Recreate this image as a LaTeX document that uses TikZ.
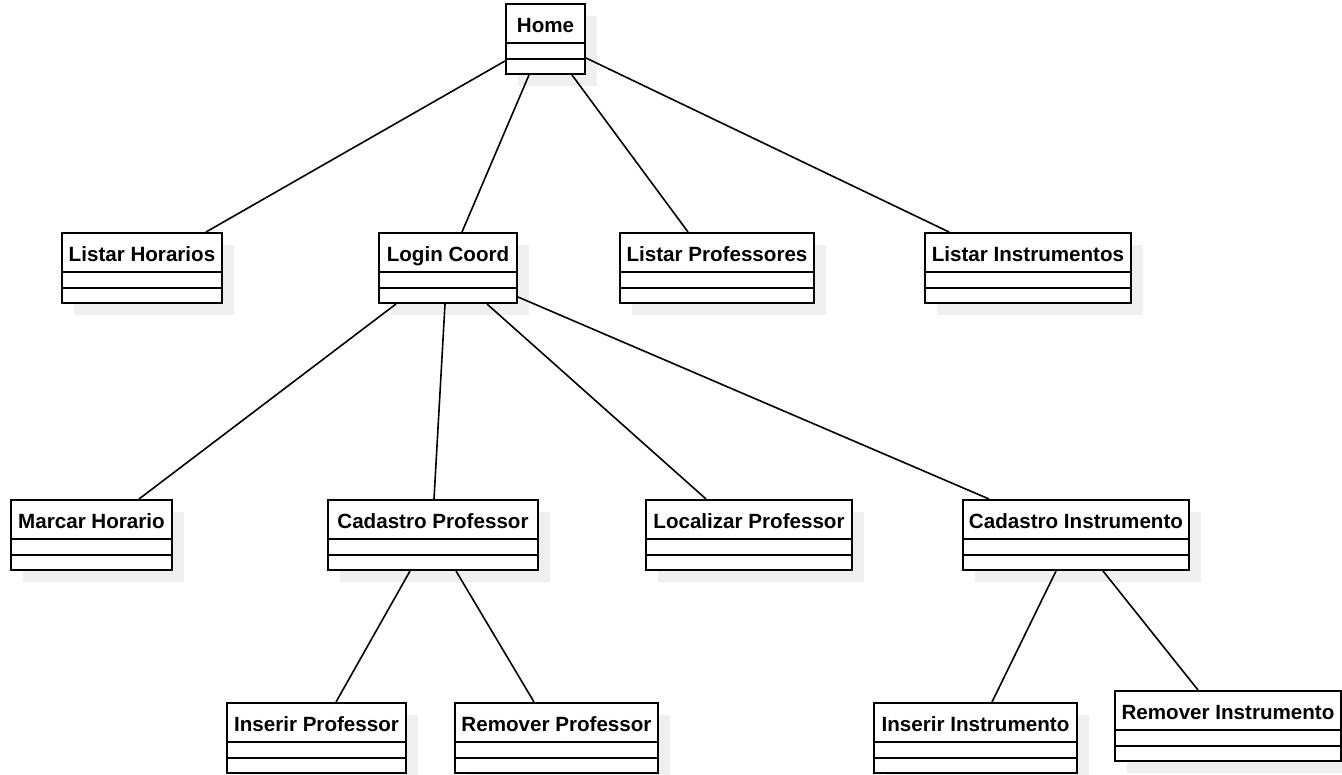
\documentclass[tikz,border=0pt]{standalone}
\usepackage{fontspec}
\setmainfont{Liberation Sans}
\usetikzlibrary{calc}
\definecolor{shadowgray}{HTML}{EFEFEF}
\tikzset{
  clsshadow/.style={fill=shadowgray},
  clsbox/.style={draw=black, fill=white, line width=1pt, rectangle, inner sep=0pt},
  clsline/.style={draw=black, line width=1pt},
  clstitle/.style={anchor=base, inner sep=0pt, font=\fontsize{10.3}{12}\selectfont\bfseries},
  conn/.style={draw=black, line width=0.8pt}
}
\newcommand\umlcls[5]{%
  \fill[clsshadow] ({#2+12},{#3+12}) rectangle ({#4+12},{#3+82});
  \node[clsbox, minimum width={(#4-#2)*0.5pt}, minimum height=35pt] (#1) at ({(#2+#4)/2},{#3+35}) {};
  \draw[clsline] ([yshift=-20pt]#1.north west) -- ([yshift=-20pt]#1.north east);
  \draw[clsline] ([yshift=-28pt]#1.north west) -- ([yshift=-28pt]#1.north east);
  \node[clstitle] (#1-t) at ({(#2+#4)/2},{#3+28.5}) {#5};
}
\begin{document}
\begin{tikzpicture}[x=0.5pt,y=-0.5pt]
\useasboundingbox (0,0) rectangle (1342,775);
\umlcls{home}{506}{4}{585}{Home}
\umlcls{lh}{62}{233}{222}{Listar Horarios}
\umlcls{lc}{379}{233}{517}{Login Coord}
\umlcls{lp}{620}{233}{814}{Listar Professores}
\umlcls{li}{925}{233}{1131}{Listar Instrumentos}
\umlcls{mh}{11}{500}{172}{Marcar Horario}
\umlcls{cp}{328}{500}{538}{Cadastro Professor}
\umlcls{lo}{646}{500}{852}{Localizar Professor}
\umlcls{ci}{963}{500}{1189}{Cadastro Instrumento}
\umlcls{ip}{227}{703}{406}{Inserir Professor}
\umlcls{rp}{455}{703}{658}{Remover Professor}
\umlcls{ii}{874}{703}{1077}{Inserir Instrumento}
\umlcls{ri}{1115}{691}{1341}{Remover Instrumento}
\draw[conn] ($(home.north west)+(0,58)$) -- ($(lh.north west)+(145,0)$);
\draw[conn] ($(home.south west)+(24,0)$) -- ($(lc.north west)+(84,0)$);
\draw[conn] ($(home.south west)+(67,0)$) -- ($(lp.north west)+(69,0)$);
\draw[conn] ($(home.north east)+(0,55)$) -- ($(li.north west)+(25,0)$);
\draw[conn] ($(lc.south west)+(18,0)$) -- ($(mh.north west)+(129,0)$);
\draw[conn] ($(lc.south west)+(67,0)$) -- ($(cp.north west)+(107,0)$);
\draw[conn] ($(lc.south west)+(109,0)$) -- ($(lo.north west)+(61,0)$);
\draw[conn] ($(lc.north east)+(0,65)$) -- ($(ci.north west)+(27,0)$);
\draw[conn] ($(cp.south west)+(83,0)$) -- ($(ip.north west)+(110,0)$);
\draw[conn] ($(cp.south west)+(129,0)$) -- ($(rp.north west)+(80,0)$);
\draw[conn] ($(ci.south west)+(94,0)$) -- ($(ii.north west)+(119,0)$);
\draw[conn] ($(ci.south west)+(141,0)$) -- ($(ri.north west)+(84,0)$);
\end{tikzpicture}
\end{document}
